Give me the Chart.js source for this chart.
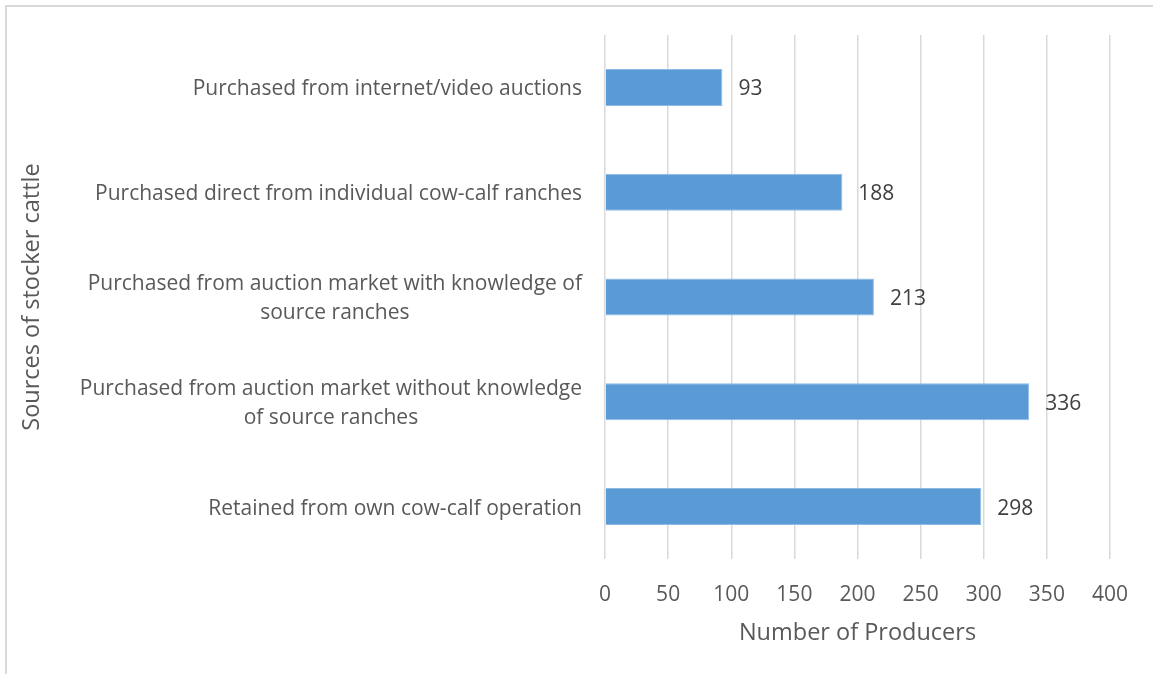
<!DOCTYPE html>
<html>
<head>
<meta charset="utf-8">
<script src="https://cdn.jsdelivr.net/npm/chart.js@4.4.1/dist/chart.umd.min.js"></script>
<style>
  html, body { margin: 0; padding: 0; background: #fff; overflow: hidden; }
  #wrap { position: relative; width: 1153px; height: 674px; }
  #frame { position: absolute; left: 5px; top: 5px; width: 1200px; height: 700px; border: 2px solid #d9d9d9; box-sizing: border-box; }
  canvas { position: absolute; left: 0; top: 0; }
</style>
</head>
<body>
<div id="wrap">
  <div id="frame"></div>
  <canvas id="chart" width="1153" height="674"></canvas>
</div>
<script>
  const sources = [
    ['Purchased from internet/video auctions'],
    ['Purchased direct from individual cow-calf ranches'],
    ['Purchased from auction market with knowledge of', 'source ranches'],
    ['Purchased from auction market without knowledge', 'of source ranches'],
    ['Retained from own cow-calf operation']
  ];
  const producers = [93, 188, 213, 336, 298];
  const xMax = 400;
  const xStep = 50;

  const FONT = '"Open Sans", "Noto Sans", sans-serif';

  // category labels: block right-aligned to the axis, lines centred inside it
  const sourceLabels = {
    id: 'sourceLabels',
    afterDraw(chart){
      const ctx = chart.ctx;
      const y = chart.scales.y;
      const right = chart.chartArea.left - 23;
      const lh = 29;
      ctx.save();
      ctx.font = '21px ' + FONT;
      ctx.fillStyle = '#595959';
      ctx.textAlign = 'center';
      ctx.textBaseline = 'middle';
      sources.forEach((lines, i) => {
        const cy = y.getPixelForTick(i) + 2;
        const w = Math.max(...lines.map(l => ctx.measureText(l).width));
        const cx = right - w / 2;
        const top = cy - (lines.length - 1) * lh / 2;
        lines.forEach((l, j) => ctx.fillText(l, cx, top + j * lh));
      });
      ctx.restore();
    }
  };

  // value printed just past the end of each bar
  const valueLabels = {
    id: 'valueLabels',
    afterDatasetsDraw(chart){
      const ctx = chart.ctx;
      const meta = chart.getDatasetMeta(0);
      ctx.save();
      ctx.font = '21px ' + FONT;
      ctx.fillStyle = '#404040';
      ctx.textAlign = 'left';
      ctx.textBaseline = 'middle';
      meta.data.forEach((bar, i) => {
        ctx.fillText(String(producers[i]), bar.x + 16, bar.y + 2);
      });
      ctx.restore();
    }
  };

  new Chart(document.getElementById('chart'), {
    type: 'bar',
    data: {
      labels: sources,
      datasets: [{
        data: producers,
        backgroundColor: '#5b9bd5',
        borderColor: '#8dbbe6',
        borderWidth: 1,
        barPercentage: 0.353,
        categoryPercentage: 1
      }]
    },
    options: {
      indexAxis: 'y',
      responsive: false,
      animation: false,
      layout: { padding: { left: 0, top: 35, right: 43, bottom: 0 } },
      plugins: { legend: { display: false }, tooltip: { enabled: false } },
      scales: {
        x: {
          min: 0,
          max: xMax,
          ticks: { stepSize: xStep, padding: 23, color: '#595959', font: { family: FONT, size: 21 } },
          grid: { color: '#d9d9d9', lineWidth: 1.5, drawTicks: false },
          border: { display: false },
          title: { display: true, text: 'Number of Producers', color: '#595959', font: { family: FONT, size: 23.5 }, padding: { top: 0, bottom: 27 } },
          afterFit(axis){ axis.height = 674 - 559; }
        },
        y: {
          ticks: { display: false },
          grid: { display: false },
          border: { display: false },
          title: { display: true, text: 'Sources of stocker cattle', color: '#595959', font: { family: FONT, size: 23.5 }, padding: { top: 18, bottom: 0 } },
          afterFit(axis){ axis.width = 605; }
        }
      }
    },
    plugins: [sourceLabels, valueLabels]
  });
</script>
</body>
</html>
